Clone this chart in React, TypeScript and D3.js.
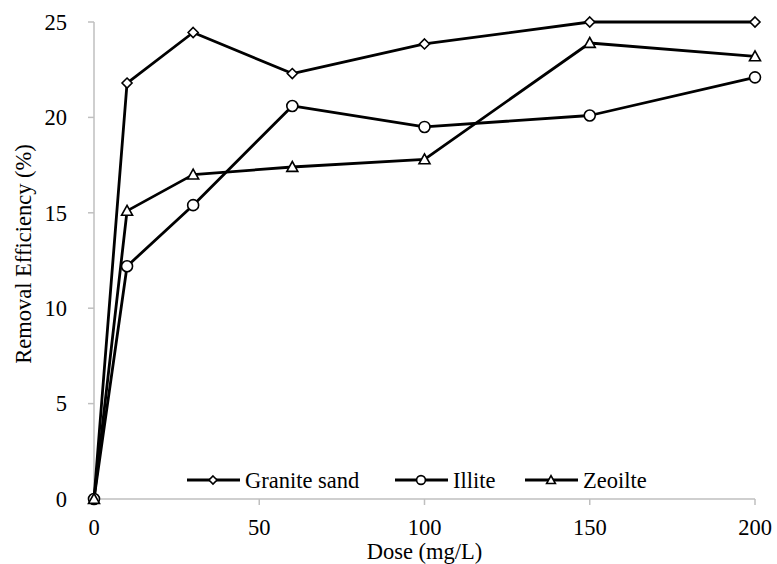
import React, { useEffect, useRef } from 'react';
import * as d3 from 'd3';

const doses = [0, 10, 30, 60, 100, 150, 200];
const graniteSand = [0, 21.8, 24.45, 22.3, 23.85, 25, 25];
const illite = [0, 12.2, 15.4, 20.6, 19.5, 20.1, 22.1];
const zeolite = [0, 15.1, 17.0, 17.4, 17.8, 23.9, 23.2];
const xTicks = [0, 50, 100, 150, 200];
const yTicks = [0, 5, 10, 15, 20, 25];

const series = [
  { name: 'Granite sand', values: graniteSand, marker: 'diamond' },
  { name: 'Illite', values: illite, marker: 'circle' },
  { name: 'Zeoilte', values: zeolite, marker: 'triangle' },
];

const W = 777;
const H = 564;
const FONT = 'Liberation Serif, Times New Roman, serif';
const FS = 22.5;

function drawMarker(g: any, type: string, x: number, y: number, k = 1) {
  if (type === 'circle') {
    g.append('circle').attr('cx', x).attr('cy', y).attr('r', 5.5 * k)
      .attr('fill', '#fff').attr('stroke', '#000').attr('stroke-width', 1.6);
  } else if (type === 'diamond') {
    const s = 5 * k;
    g.append('path')
      .attr('d', `M${x},${y - s}L${x + s},${y}L${x},${y + s}L${x - s},${y}Z`)
      .attr('fill', '#fff').attr('stroke', '#000').attr('stroke-width', 1.6);
  } else {
    const s = 5.5 * k;
    g.append('path')
      .attr('d', `M${x},${y - s}L${x + s},${y + s * 0.8}L${x - s},${y + s * 0.8}Z`)
      .attr('fill', '#fff').attr('stroke', '#000').attr('stroke-width', 1.6);
  }
}

export default function App() {
  const ref = useRef<SVGSVGElement>(null);

  useEffect(() => {
    const svg = d3.select(ref.current);
    svg.selectAll('*').remove();

    const x = d3.scaleLinear().domain([0, 200]).range([94, 755]);
    const y = d3.scaleLinear().domain([0, 25]).range([499, 22]);

    // axes
    const axis = svg.append('g').attr('stroke', '#bfbfbf').attr('stroke-width', 1.5);
    axis.append('line').attr('x1', x(0)).attr('x2', x(0)).attr('y1', y(25)).attr('y2', y(0));
    axis.append('line').attr('x1', x(0)).attr('x2', x(200)).attr('y1', y(0)).attr('y2', y(0));
    yTicks.forEach(t => {
      axis.append('line').attr('x1', x(0) - 6).attr('x2', x(0)).attr('y1', y(t)).attr('y2', y(t));
    });
    xTicks.forEach(t => {
      axis.append('line').attr('x1', x(t)).attr('x2', x(t)).attr('y1', y(0)).attr('y2', y(0) + 6);
    });

    const labels = svg.append('g').attr('font-family', FONT).attr('font-size', FS).attr('fill', '#000');
    yTicks.forEach(t => {
      labels.append('text').attr('x', x(0) - 27).attr('y', y(t)).attr('dy', '0.35em')
        .attr('text-anchor', 'end').text(t);
    });
    xTicks.forEach(t => {
      labels.append('text').attr('x', x(t)).attr('y', y(0) + 36)
        .attr('text-anchor', 'middle').text(t);
    });
    labels.append('text').attr('x', (x(0) + x(200)) / 2).attr('y', 559)
      .attr('text-anchor', 'middle').text('Dose (mg/L)');
    labels.append('text')
      .attr('transform', `translate(31,254) rotate(-90)`)
      .attr('text-anchor', 'middle').text('Removal Efficiency (%)');

    // series
    const line = d3.line<number>().x((_, i) => x(doses[i])).y(d => y(d));
    series.forEach(s => {
      svg.append('path').datum(s.values).attr('d', line)
        .attr('fill', 'none').attr('stroke', '#000').attr('stroke-width', 2.8)
        .attr('stroke-linejoin', 'round');
    });
    series.forEach(s => {
      const g = svg.append('g');
      s.values.forEach((v, i) => drawMarker(g, s.marker, x(doses[i]), y(v)));
    });

    // legend
    const legendX = [187, 395, 525];
    const ly = 480;
    series.forEach((s, i) => {
      const g = svg.append('g');
      const lx = legendX[i];
      g.append('line').attr('x1', lx).attr('x2', lx + 53).attr('y1', ly).attr('y2', ly)
        .attr('stroke', '#000').attr('stroke-width', 2.8);
      drawMarker(g, s.marker, lx + 26, ly, 0.8);
      g.append('text').attr('x', lx + 58).attr('y', ly).attr('dy', '0.35em')
        .attr('font-family', FONT).attr('font-size', FS).text(s.name);
    });
  }, []);

  return (
    <svg
      ref={ref}
      width={W}
      height={H}
      fontFamily={FONT}
      style={{ display: 'block', position: 'absolute', left: 0, top: 0, background: '#fff' }}
    />
  );
}
